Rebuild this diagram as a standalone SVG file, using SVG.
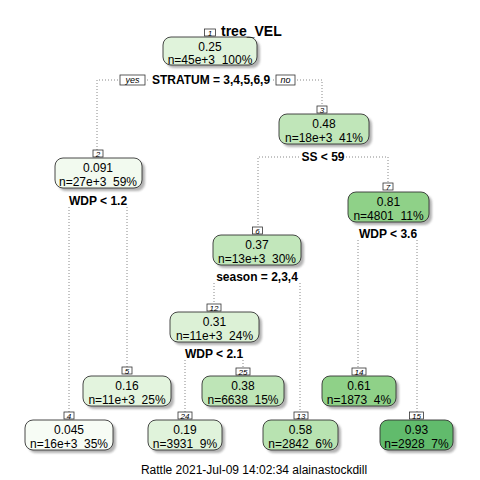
<svg xmlns="http://www.w3.org/2000/svg" width="480" height="480" viewBox="0 0 480 480">
<style>
text{font-family:"Liberation Sans",Arial,sans-serif;fill:#000}
.nb{stroke:#333;stroke-width:0.9}
.sh{fill:#9a9a9a;opacity:0.75}
.v{font-size:12px;text-anchor:middle}
.num{font-size:8px;font-style:italic;text-anchor:middle}
.nbox{fill:#fff;stroke:#333;stroke-width:0.8}
.split{font-size:12px;font-weight:bold;text-anchor:middle}
.c{fill:none;stroke:#888;stroke-width:1;stroke-dasharray:1,2}
.yn{font-size:9px;font-style:italic;text-anchor:middle}
</style>
<defs>
<filter id="blur" x="-10%" y="-20%" width="120%" height="140%"><feGaussianBlur stdDeviation="1"/></filter>
</defs>
<rect width="480" height="480" fill="#fff"/>
<g id="connectors">
<path class="c" d="M97,150 V80 H322 V106"/>
<path class="c" d="M69,207 V412 M127,207 V367"/>
<path class="c" d="M258,228 V157 H388 V183"/>
<path class="c" d="M358,240 V368 M417,240 V412"/>
<path class="c" d="M214,283 V304 M300,283 V412"/>
<path class="c" d="M185,360 V412 M243,360 V368"/>
</g>
<g id="node1">
<rect class="sh" filter="url(#blur)" x="166" y="40" width="94" height="28" rx="8"/>
<rect class="nb" fill="#E0F3DB" x="163" y="37" width="94" height="28" rx="8"/>
<text class="v" x="210" y="51">0.25</text>
<text class="v" x="210" y="64" xml:space="preserve">n=45e+3  100%</text>
<rect class="nbox" x="204.5" y="29" width="11" height="7"/>
<text class="num" x="210" y="35.5">1</text>
<text x="221" y="36" style="font-size:14px;font-weight:bold">tree_VEL</text>
<rect fill="#fff" x="148" y="72" width="125" height="14"/>
<text class="split" x="211" y="84">STRATUM = 3,4,5,6,9</text>
<rect class="nbox" x="120" y="75" width="25" height="10"/>
<text class="yn" x="132.5" y="83">yes</text>
<rect class="nbox" x="276" y="75" width="19" height="10"/>
<text class="yn" x="285.5" y="83">no</text>
</g>
<g id="node2">
<rect class="sh" filter="url(#blur)" x="58" y="161" width="87" height="30" rx="8"/>
<rect class="nb" fill="#F2FAEF" x="55" y="158" width="87" height="30" rx="8"/>
<text class="v" x="98" y="172">0.091</text>
<text class="v" x="98" y="186" xml:space="preserve">n=27e+3  59%</text>
<rect class="nbox" x="93" y="150" width="10" height="7"/>
<text class="num" x="98" y="156.5">2</text>
<text class="split" x="98" y="205">WDP &lt; 1.2</text>
</g>
<g id="node3">
<rect class="sh" filter="url(#blur)" x="282" y="117" width="90" height="30" rx="8"/>
<rect class="nb" fill="#C0E6B9" x="279" y="114" width="90" height="30" rx="8"/>
<text class="v" x="324" y="128">0.48</text>
<text class="v" x="324" y="142" xml:space="preserve">n=18e+3  41%</text>
<rect class="nbox" x="317" y="106" width="10" height="7"/>
<text class="num" x="322" y="112.5">3</text>
<rect fill="#fff" x="299" y="150" width="47" height="13"/>
<text class="split" x="323" y="161">SS &lt; 59</text>
</g>
<g id="node4">
<rect class="sh" filter="url(#blur)" x="28" y="423" width="88" height="30" rx="8"/>
<rect class="nb" fill="#F7FCF5" x="25" y="420" width="88" height="30" rx="8"/>
<text class="v" x="69" y="434">0.045</text>
<text class="v" x="69" y="448" xml:space="preserve">n=16e+3  35%</text>
<rect class="nbox" x="64" y="412" width="10" height="7"/>
<text class="num" x="69" y="418.5">4</text>
</g>
<g id="node5">
<rect class="sh" filter="url(#blur)" x="86" y="379" width="88" height="30" rx="8"/>
<rect class="nb" fill="#E3F4DE" x="83" y="376" width="88" height="30" rx="8"/>
<text class="v" x="127" y="390">0.16</text>
<text class="v" x="127" y="404" xml:space="preserve">n=11e+3  25%</text>
<rect class="nbox" x="122" y="367" width="10" height="7"/>
<text class="num" x="127" y="373.5">5</text>
</g>
<g id="node6">
<rect class="sh" filter="url(#blur)" x="216" y="238" width="88" height="30" rx="8"/>
<rect class="nb" fill="#C2E7BB" x="213" y="235" width="88" height="30" rx="8"/>
<text class="v" x="257" y="249">0.37</text>
<text class="v" x="257" y="263" xml:space="preserve">n=13e+3  30%</text>
<rect class="nbox" x="252.5" y="227" width="10" height="7"/>
<text class="num" x="257.5" y="233.5">6</text>
<text class="split" x="257" y="281">season = 2,3,4</text>
</g>
<g id="node7">
<rect class="sh" filter="url(#blur)" x="351" y="195" width="81" height="30" rx="8"/>
<rect class="nb" fill="#8FD188" x="348" y="192" width="81" height="30" rx="8"/>
<text class="v" x="388.5" y="206">0.81</text>
<text class="v" x="388.5" y="220" xml:space="preserve">n=4801  11%</text>
<rect class="nbox" x="383" y="183" width="10" height="7"/>
<text class="num" x="388" y="189.5">7</text>
<text class="split" x="388" y="238">WDP &lt; 3.6</text>
</g>
<g id="node12">
<rect class="sh" filter="url(#blur)" x="173" y="315" width="89" height="30" rx="8"/>
<rect class="nb" fill="#DCF1D6" x="170" y="312" width="89" height="30" rx="8"/>
<text class="v" x="214.5" y="326">0.31</text>
<text class="v" x="214.5" y="340" xml:space="preserve">n=11e+3  24%</text>
<rect class="nbox" x="207" y="304" width="14" height="7"/>
<text class="num" x="214" y="310.5">12</text>
<text class="split" x="214" y="358">WDP &lt; 2.1</text>
</g>
<g id="node13">
<rect class="sh" filter="url(#blur)" x="266" y="423" width="75" height="30" rx="8"/>
<rect class="nb" fill="#B8E3B1" x="263" y="420" width="75" height="30" rx="8"/>
<text class="v" x="300.5" y="434">0.58</text>
<text class="v" x="300.5" y="448" xml:space="preserve">n=2842  6%</text>
<rect class="nbox" x="294" y="412" width="14" height="7"/>
<text class="num" x="301" y="418.5">13</text>
</g>
<g id="node14">
<rect class="sh" filter="url(#blur)" x="325" y="379" width="74" height="30" rx="8"/>
<rect class="nb" fill="#8FD188" x="322" y="376" width="74" height="30" rx="8"/>
<text class="v" x="359" y="390">0.61</text>
<text class="v" x="359" y="404" xml:space="preserve">n=1873  4%</text>
<rect class="nbox" x="352" y="368" width="14" height="7"/>
<text class="num" x="359" y="374.5">14</text>
</g>
<g id="node15">
<rect class="sh" filter="url(#blur)" x="383" y="423" width="73" height="30" rx="8"/>
<rect class="nb" fill="#61BB6C" x="380" y="420" width="73" height="30" rx="8"/>
<text class="v" x="416.5" y="434">0.93</text>
<text class="v" x="416.5" y="448" xml:space="preserve">n=2928  7%</text>
<rect class="nbox" x="409.5" y="412" width="14" height="7"/>
<text class="num" x="416.5" y="418.5">15</text>
</g>
<g id="node24">
<rect class="sh" filter="url(#blur)" x="151" y="423" width="74" height="30" rx="8"/>
<rect class="nb" fill="#E0F3DB" x="148" y="420" width="74" height="30" rx="8"/>
<text class="v" x="185" y="434">0.19</text>
<text class="v" x="185" y="448" xml:space="preserve">n=3931  9%</text>
<rect class="nbox" x="178" y="412" width="14" height="7"/>
<text class="num" x="185" y="418.5">24</text>
</g>
<g id="node25">
<rect class="sh" filter="url(#blur)" x="205" y="379" width="82" height="30" rx="8"/>
<rect class="nb" fill="#BEE5B7" x="202" y="376" width="82" height="30" rx="8"/>
<text class="v" x="243" y="390">0.38</text>
<text class="v" x="243" y="404" xml:space="preserve">n=6638  15%</text>
<rect class="nbox" x="236" y="368" width="14" height="7"/>
<text class="num" x="243" y="374.5">25</text>
</g>
<text x="254" y="474" style="font-size:12px;text-anchor:middle">Rattle 2021-Jul-09 14:02:34 alainastockdill</text>
</svg>
